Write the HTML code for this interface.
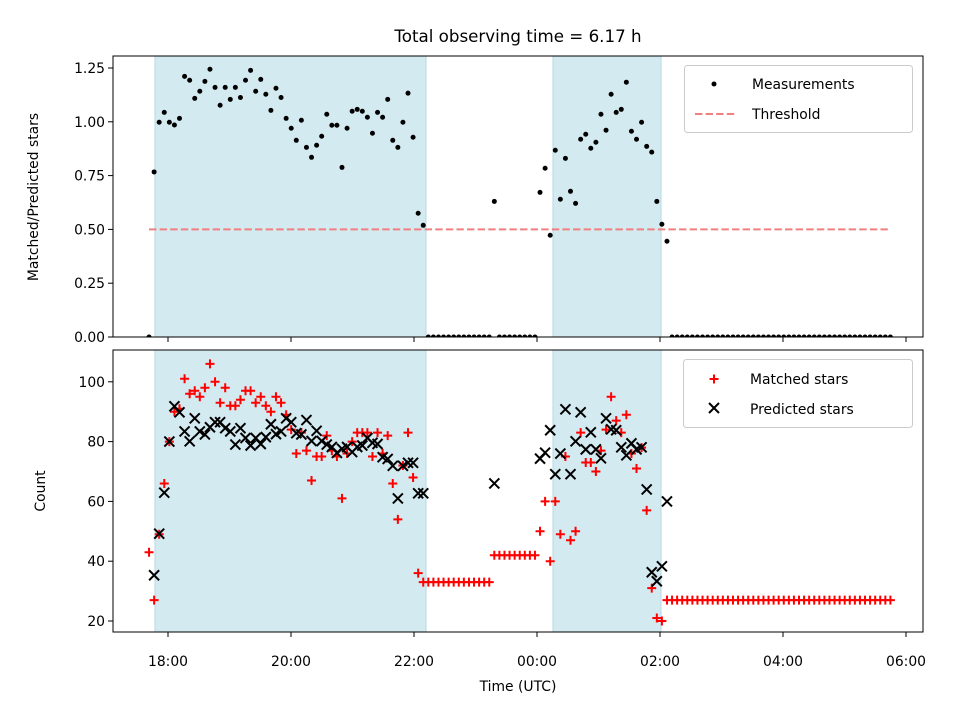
<!DOCTYPE html>
<html><head><meta charset="utf-8"><style>
body{margin:0;background:#fff}
svg{display:block;font-family:"DejaVu Sans","Liberation Sans",sans-serif}
</style></head><body>
<svg id="fig" width="960" height="720" viewBox="0 0 960 720" xmlns="http://www.w3.org/2000/svg">
<rect width="960" height="720" fill="#fff"/>
<text x="518" y="42" font-size="16.7" text-anchor="middle">Total observing time = 6.17 h</text>
<g id="top"></g>
<g id="bot"></g>
</svg>
<script>
// observation times: minutes relative to 18:00 UTC (regular cadence)
const obsStartMin = -18.5;
const cadenceMin = 4.954;
const nObs = 147;
const ratio = [0,.767,.998,1.044,.998,.985,1.016,1.211,1.193,1.109,1.142,1.188,1.244,1.16,1.077,1.16,1.104,1.16,1.113,1.193,1.239,1.142,1.197,1.128,1.053,1.156,1.113,1.016,.97,.914,1.007,.881,.835,.891,.933,1.035,.984,.984,.788,.97,1.049,1.058,1.049,1.021,.947,1.044,1.021,1.104,.914,.881,.998,1.133,.928,.575,.519,
0,0,0,0,0,0,0,0,0,0,0,0,0,.63,0,0,0,0,0,0,0,0,
.672,.784,.473,.868,.64,.83,.677,.621,.919,.942,.877,.905,1.035,.961,1.128,1.044,1.058,1.184,.956,.919,.998,.886,.859,.63,.524,.445,
0,0,0,0,0,0,0,0,0,0,0,0,0,0,0,0,0,0,0,0,0,0,0,0,0,0,0,0,0,0,0,0,0,0,0,0,0,0,0,0,0,0,0,0];
const matched = [43,27,49,66,80,90,91,101,96,97,95,98,106,100,93,98,92,92,94,97,97,93,95,92,90,95,93,89,84,76,83,77,67,75,75,82,77,75,61,76,80,83,83,83,75,83,76,82,66,54,72,83,68,36,33,
33,33,33,33,33,33,33,33,33,33,33,33,33,42,42,42,42,42,42,42,42,42,
50,60,40,60,49,75,47,50,83,73,73,70,77,84,95,87,83,89,76,71,78,57,31,21,20,27,
27,27,27,27,27,27,27,27,27,27,27,27,27,27,27,27,27,27,27,27,27,27,27,27,27,27,27,27,27,27,27,27,27,27,27,27,27,27,27,27,27,27,27,27];
const predicted = [null,35.3,49.2,62.9,80,91.8,89.8,83.4,80.1,87.8,83.4,82.4,84.8,86.5,86.5,84.5,83.4,79,84.5,81.2,78.7,81.2,79.2,81.5,85.8,82.5,83.4,87.8,86.5,82.8,82.4,87.2,80.2,83.6,80.2,79,78.2,76.2,77.6,78.2,76.5,78.2,78.7,81.2,79.6,79.2,74.8,74.2,71.9,61,71.9,72.9,72.9,62.7,62.7,
null,null,null,null,null,null,null,null,null,null,null,null,null,66,null,null,null,null,null,null,null,null,
74.3,76.3,83.8,69.1,76,90.8,69.1,80.1,89.8,77.4,83.1,77.4,74.4,87.8,84.1,83.8,78.1,75.4,79.4,77.4,78.1,64,36.3,33.3,38.3,60];
const threshold = 0.5;
const spanStarts = [-12.7, 375.6];
const spanEnds = [251.7, 481];
const xTickMin = [0,120,240,360,480,600,720];
const xTickLabels = ["18:00","20:00","22:00","00:00","02:00","04:00","06:00"];
const topTicks = [0,0.25,0.5,0.75,1.0,1.25];
const topTickLabels = ["0.00","0.25","0.50","0.75","1.00","1.25"];
const botTicks = [20,40,60,80,100];

const NS="http://www.w3.org/2000/svg";
const X0=113,X1=923;
const xs = m => 168 + m*123/120;
const yTop = v => 337 - v*215.2;
const yBot = v => 621 - (v-20)*2.99;
function mk(tag,attrs,parent){const e=document.createElementNS(NS,tag);for(const k in attrs)e.setAttribute(k,attrs[k]);parent.appendChild(e);return e;}
const times=[];for(let i=0;i<nObs;i++)times.push(obsStartMin+i*cadenceMin);

function panel(g,top,bot,clipId){
  const defs=mk('defs',{},g);const cp=mk('clipPath',{id:clipId},defs);mk('rect',{x:X0,y:top,width:X1-X0,height:bot-top},cp);
  spanStarts.forEach((s,i)=>{const r=mk('rect',{x:xs(s),y:top,width:xs(spanEnds[i])-xs(s),height:bot-top,fill:'#d4eaf1',stroke:'#b4dae6','stroke-width':1},g);
    
    });
  xTickMin.forEach((m,i)=>{const l=mk('line',{x1:xs(m),x2:xs(m),y1:bot,y2:bot+5,stroke:'#000','stroke-width':1},g);
    
    });
  return 'url(#'+clipId+')';
}
// top panel
const gt=document.getElementById('top');
const ct=panel(gt,56,337,'ct');
const th=mk('line',{x1:xs(times[0]),x2:xs(times[nObs-1]),y1:yTop(threshold),y2:yTop(threshold),stroke:'#f08080','stroke-width':2,'stroke-dasharray':'7.4 3.2'},gt);


const gpts=mk('g',{'clip-path':ct},gt);
ratio.forEach((v,i)=>{const c=mk('circle',{cx:xs(times[i]),cy:yTop(v),r:2.5,fill:'#000'},gpts);
  
  });
mk('rect',{x:X0,y:56,width:X1-X0,height:281,fill:'none',stroke:'#000','stroke-width':1},gt);
topTicks.forEach((v,i)=>{mk('line',{x1:X0-5,x2:X0,y1:yTop(v),y2:yTop(v),stroke:'#000'},gt);
  const t=mk('text',{x:X0-8,y:yTop(v)+5,'font-size':13.9,'text-anchor':'end'},gt);t.textContent=topTickLabels[i];
  
  });
const yl1=mk('text',{x:0,y:0,'font-size':13.9,'text-anchor':'middle',transform:'translate(38,197) rotate(-90)'},gt);yl1.textContent='Matched/Predicted stars';


// top legend
const lg1=mk('g',{},gt);


mk('rect',{x:684.5,y:65.5,width:228,height:67,rx:3,fill:'#fff','fill-opacity':0.8,stroke:'#ccc'},lg1);
mk('circle',{cx:714,cy:84,r:2.5,fill:'#000'},lg1);
let t=mk('text',{x:752,y:89,'font-size':13.9},lg1);t.textContent='Measurements';
mk('line',{x1:695,x2:735,y1:114,y2:114,stroke:'#f08080','stroke-width':2,'stroke-dasharray':'7.4 3.2'},lg1);
t=mk('text',{x:752,y:119,'font-size':13.9},lg1);t.textContent='Threshold';

// bottom panel
const gb=document.getElementById('bot');
const cb=panel(gb,350,632,'cb');
const gm=mk('g',{'clip-path':cb},gb);
matched.forEach((v,i)=>{const x=xs(times[i]),y=yBot(v);
  const p=mk('path',{d:`M${x-4.5},${y}H${x+4.5}M${x},${y-4.5}V${y+4.5}`,stroke:'#f00','stroke-width':2,fill:'none'},gm);
  
  });
predicted.forEach((v,i)=>{if(v===null||v===undefined)return;const x=xs(times[i]),y=yBot(v);
  const p=mk('path',{d:`M${x-5},${y-5}L${x+5},${y+5}M${x-5},${y+5}L${x+5},${y-5}`,stroke:'#000','stroke-width':2,fill:'none'},gm);
  
  });
mk('rect',{x:X0,y:350,width:X1-X0,height:282,fill:'none',stroke:'#000','stroke-width':1},gb);
botTicks.forEach(v=>{mk('line',{x1:X0-5,x2:X0,y1:yBot(v),y2:yBot(v),stroke:'#000'},gb);
  const t=mk('text',{x:X0-8,y:yBot(v)+5,'font-size':13.9,'text-anchor':'end'},gb);t.textContent=String(v);
  
  });
xTickMin.forEach((m,i)=>{const t=mk('text',{x:xs(m),y:666,'font-size':13.9,'text-anchor':'middle'},gb);t.textContent=xTickLabels[i];
  
  });
const yl2=mk('text',{x:0,y:0,'font-size':13.9,'text-anchor':'middle',transform:'translate(45,491) rotate(-90)'},gb);yl2.textContent='Count';


const xl=mk('text',{x:518,y:691,'font-size':13.9,'text-anchor':'middle'},gb);xl.textContent='Time (UTC)';


const lg2=mk('g',{},gb);


mk('rect',{x:683.5,y:359.5,width:229,height:68,rx:3,fill:'#fff','fill-opacity':0.8,stroke:'#ccc'},lg2);
mk('path',{d:'M709.5,379H718.5M714,374.5V383.5',stroke:'#f00','stroke-width':2},lg2);
t=mk('text',{x:750,y:384,'font-size':13.9},lg2);t.textContent='Matched stars';
mk('path',{d:'M709,403L719,413M709,413L719,403',stroke:'#000','stroke-width':2},lg2);
t=mk('text',{x:750,y:414,'font-size':13.9},lg2);t.textContent='Predicted stars';
</script>
</body></html>
